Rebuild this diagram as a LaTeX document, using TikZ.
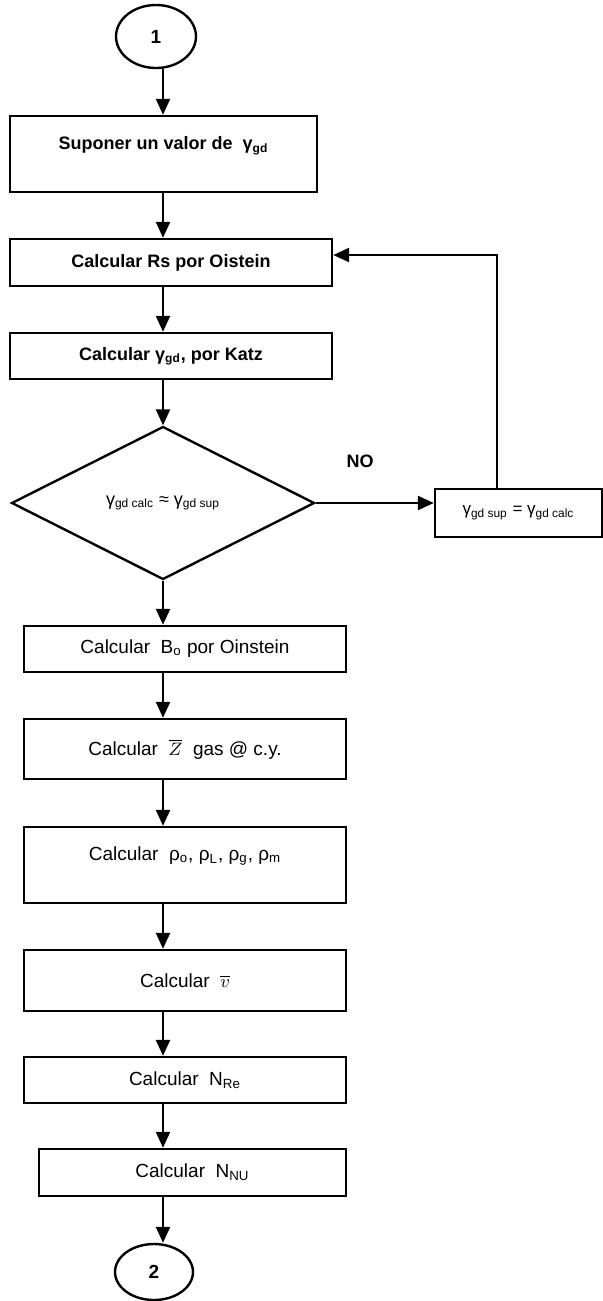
\documentclass[tikz,border=0pt]{standalone}
\usepackage{fontspec}
\setmainfont{Liberation Sans}
\usepackage{tikz}
\usetikzlibrary{arrows.meta,shapes.geometric}

\begin{document}
\begin{tikzpicture}[
    x=0.5pt, y=-0.5pt,
    caja/.style={
      rectangle,
      draw,
      line width=1.2pt,
      inner sep=0pt,
      align=center,
      font=\fontsize{9.5}{11}\selectfont},
    rombo/.style={
      diamond,
      draw,
      line width=1.2pt,
      inner sep=0pt,
      aspect=2,
      minimum width=151.5pt,
      minimum height=76.5pt,
      font=\fontsize{9}{10}\selectfont},
    conector/.style={
      ellipse,
      draw,
      line width=1.2pt,
      inner sep=0pt,
      font=\bfseries\fontsize{9.5}{11}\selectfont},
    flecha/.style={
      line width=1.2pt,
      -{Triangle[length=8pt,width=7pt]}}
    ]

  \useasboundingbox (0,0) rectangle (603,1301);
  \coordinate (eje) at (163, 0);
  \coordinate (retorno) at (497, 255);

  \node at (156, 36.5) (inicio) [conector, minimum width=40pt, minimum height=31.5pt] {1};
  \node at (163.5, 154) (paso1) [caja, minimum width=153.5pt, minimum height=38pt, font=\bfseries\fontsize{9}{11}\selectfont] {Suponer un valor de \ γ\textsubscript{gd}\\ \mbox{}};
  \node at (171, 262.5) (paso2) [caja, minimum width=161pt, minimum height=23.5pt, font=\bfseries\fontsize{9}{11}\selectfont] {Calcular Rs por Oistein};
  \node at (171, 356) (paso3) [caja, minimum width=161pt, minimum height=23pt, font=\bfseries\fontsize{9}{11}\selectfont] {Calcular γ\textsubscript{gd}, por Katz};
  \node at (163, 503) (prueba) [rombo] {γ\textsubscript{gd calc} ≈ γ\textsubscript{gd sup}};
  \node at (518.5, 513) (igual) [caja, minimum width=83.5pt, minimum height=24pt, font=\fontsize{8.5}{10}\selectfont] {γ\textsubscript{gd sup} = γ\textsubscript{gd calc}};
  \node at (185, 649) (paso4) [caja, minimum width=161pt, minimum height=23pt] {Calcular \ B\textsubscript{o} por Oinstein};
  \node at (185, 749) (paso5) [caja, minimum width=161pt, minimum height=30pt] {Calcular \ $\overline{Z}$ \ gas @ c.y.};
  \node at (185, 865) (paso6) [caja, minimum width=161pt, minimum height=38pt] {Calcular \ ρ\textsubscript{o}, ρ\textsubscript{L}, ρ\textsubscript{g}, ρ\textsubscript{m}\\ \mbox{}};
  \node at (185, 980.5) (paso7) [caja, minimum width=161pt, minimum height=30.5pt] {Calcular \ $\overline{v}$};
  \node at (185, 1080) (paso8) [caja, minimum width=161pt, minimum height=23pt] {Calcular \ N\textsubscript{Re}};
  \node at (192.5, 1172.5) (paso9) [caja, minimum width=153.5pt, minimum height=23.5pt] {Calcular \ N\textsubscript{NU}};
  \node at (154, 1272) (fin) [conector, minimum width=39pt, minimum height=28pt] {2};
  \node at (360, 461) (no) [font=\bfseries\fontsize{9}{11}\selectfont] {NO};

  \path[flecha]
        (inicio.south -| eje) edge (paso1.north -| eje)
        (paso1.south -| eje) edge (paso2.north -| eje)
        (paso2.south -| eje) edge (paso3.north -| eje)
        (paso3.south -| eje) edge (prueba.north)
        (prueba.south) edge (paso4.north -| eje)
        (paso4.south -| eje) edge (paso5.north -| eje)
        (paso5.south -| eje) edge (paso6.north -| eje)
        (paso6.south -| eje) edge (paso7.north -| eje)
        (paso7.south -| eje) edge (paso8.north -| eje)
        (paso8.south -| eje) edge (paso9.north -| eje)
        (paso9.south -| eje) edge (fin.north -| eje)
        (prueba.east) edge (prueba.east -| igual.west)
   ;
  \draw[flecha] (igual.north -| retorno) -- (retorno) -- (retorno -| paso2.east);

\end{tikzpicture}
\end{document}
